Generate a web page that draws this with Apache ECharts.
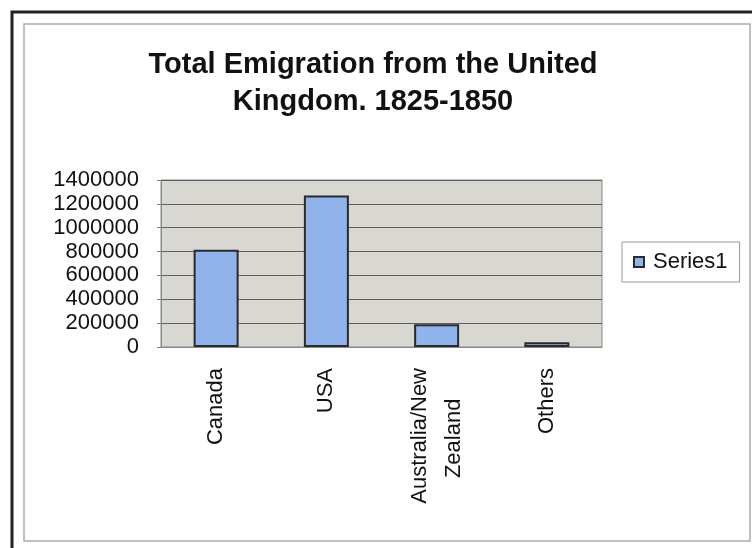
<!DOCTYPE html>
<html lang="en">
<head>
	<meta charset="UTF-8">
	<title>Total Emigration from the United Kingdom</title>
	<script src="https://cdn.jsdelivr.net/npm/echarts@6/dist/echarts.min.js"></script>
</head>
<body style="margin:0;background-color:#fff;">
	<div id="main" style="width:752px;height:548px;"></div>
	<script type="text/javascript">
		// data
		// trailing spaces keep "Zealand" centred under "Australia/New" like the original
		var destinations = ['Canada', 'USA', 'Australia/New\nZealand     ', 'Others'];
		var emigrants = [815000, 1270000, 190000, 40000];
		var seriesName = 'Series1';
		var yTicks = [0, 200000, 400000, 600000, 800000, 1000000, 1200000, 1400000];

		var myChart = echarts.init(document.getElementById('main'));
		myChart.setOption({
			animation: false,
			backgroundColor: '#fff',
			title: {
				text: 'Total Emigration from the United\nKingdom. 1825-1850',
				left: 368,
				top: 41,
				textAlign: 'center',
				textStyle: {
					fontFamily: 'Liberation Sans',
					fontSize: 29,
					fontWeight: 'bold',
					color: '#111',
					lineHeight: 37
				}
			},
			// frame round the chart, as in the scan
			graphic: [{
				type: 'polyline',
				shape: { points: [[12, 548], [12, 12], [752, 12]] },
				style: { stroke: '#222', lineWidth: 3, fill: null }
			}, {
				type: 'rect',
				shape: { x: 24, y: 24, width: 726, height: 517 },
				style: { stroke: '#aaa', lineWidth: 1.5, fill: null }
			}],
			legend: {
				data: [seriesName],
				icon: 'rect',
				left: 622,
				top: 242,
				orient: 'vertical',
				padding: [9, 12, 9, 11],
				borderColor: '#999',
				borderWidth: 1,
				itemWidth: 10,
				itemHeight: 10,
				itemGap: 0,
				textStyle: {
					fontFamily: 'Liberation Sans',
					fontSize: 22,
					color: '#111',
					padding: [0, 0, 0, 4]
				}
			},
			grid: {
				left: 161,
				right: 150,
				top: 180,
				bottom: 201,
				show: true,
				backgroundColor: '#d9d7d1',
				borderColor: '#888',
				borderWidth: 1
			},
			xAxis: {
				type: 'category',
				data: destinations,
				axisLine: { lineStyle: { color: '#888' } },
				axisTick: { length: 4, lineStyle: { color: '#888' } },
				axisLabel: {
					rotate: 90,
					margin: 21,
					fontFamily: 'Liberation Sans',
					fontSize: 22,
					color: '#111',
					lineHeight: 34
				}
			},
			yAxis: {
				type: 'value',
				min: yTicks[0],
				max: yTicks[yTicks.length - 1],
				interval: yTicks[1] - yTicks[0],
				axisLine: { show: true, lineStyle: { color: '#888' } },
				axisTick: { show: true, length: 4, lineStyle: { color: '#888' } },
				splitLine: { lineStyle: { color: '#5f5f5f', width: 1 } },
				axisLabel: {
					margin: 22,
					fontFamily: 'Liberation Sans',
					fontSize: 22,
					color: '#111',
					formatter: function (v) { return String(v); }
				}
			},
			series: [{
				name: seriesName,
				type: 'bar',
				data: emigrants,
				barWidth: 45,
				itemStyle: {
					color: '#8fb3ea',
					borderColor: '#2a2a2a',
					borderWidth: 2
				}
			}]
		});
	</script>
</body>
</html>
